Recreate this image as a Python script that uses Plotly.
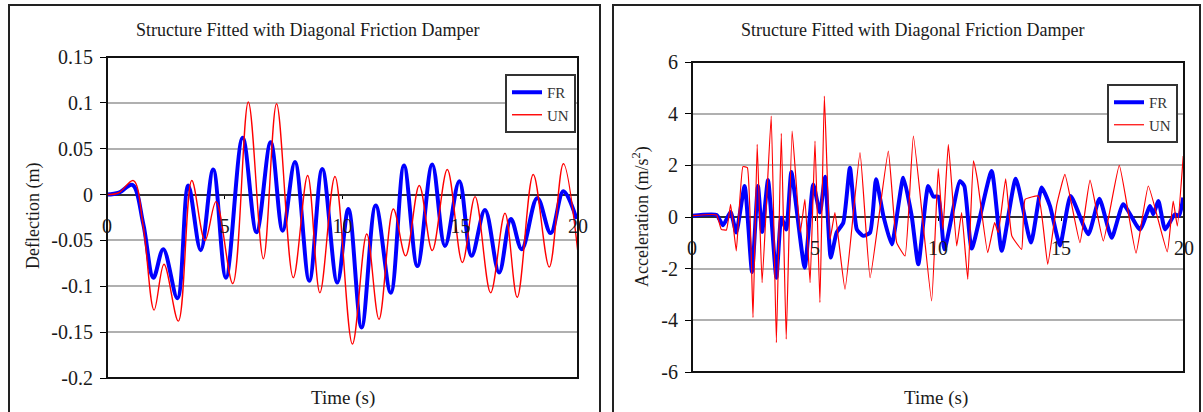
import plotly.graph_objects as go

W, H = 1203, 412

# ---------------- data ----------------
defl_fr_t = [0, 0.5, 1.08, 1.54, 1.97, 2.39, 2.99, 3.45, 3.98, 4.51, 5.05, 5.76, 6.35, 6.95, 7.46,
             7.98, 8.59, 9.14, 9.78, 10.25, 10.81, 11.41, 12.05, 12.61, 13.18, 13.81, 14.35, 14.96,
             15.48, 16.05, 16.65, 17.15, 17.61, 18.27, 18.84, 19.38, 19.94]
defl_fr = [0, 0.002, 0.0106, -0.032, -0.0906, -0.0595, -0.113, 0.0099, -0.0606, 0.0274, -0.0906,
           0.062, -0.041, 0.057, -0.0394, 0.0354, -0.094, 0.028, -0.096, -0.0157, -0.145, -0.012,
           -0.107, 0.0318, -0.078, 0.0329, -0.056, 0.0146, -0.0668, -0.0168, -0.085, -0.0267,
           -0.0595, -0.0037, -0.042, 0.0036, -0.0267]

defl_un_t = [0, 0.5, 1.12, 1.54, 2.0, 2.42, 3.03, 3.6, 4.16, 4.63, 5.34, 6.0, 6.64, 7.2, 7.91, 8.52,
             9.04, 9.68, 10.42, 11.03, 11.55, 12.16, 12.68, 13.26, 13.81, 14.45, 15.09, 15.63,
             16.29, 16.9, 17.42, 18.1, 18.78, 19.38, 20.0]
defl_un = [0, 0.002, 0.0153, -0.035, -0.126, -0.076, -0.138, 0.0153, -0.050, -0.0077, -0.097,
           0.101, -0.070, 0.099, -0.0906, 0.0208, -0.107, 0.0197, -0.163, -0.043, -0.136, -0.0157,
           -0.0668, 0.0099, -0.061, 0.0274, -0.074, -0.0022, -0.107, -0.0204, -0.112, 0.0219,
           -0.079, 0.0336, -0.064]

acc_fr_t = [0, 1.0, 1.26, 1.57, 1.8, 2.14, 2.44, 2.68, 2.85, 3.09, 3.43, 3.63, 3.83, 4.04, 4.58,
            4.93, 5.2, 5.41, 5.64, 5.88, 6.15, 6.42, 6.7, 6.96, 7.24, 7.48, 7.78, 8.12, 8.59, 8.93,
            9.2, 9.6, 9.81, 10.01, 10.26, 10.89, 11.07, 11.37, 12.18, 12.59, 13.16, 13.78, 14.21,
            14.55, 14.96, 15.39, 16.11, 16.56, 17.06, 17.53, 18.21, 18.62, 18.75, 18.96, 19.23,
            19.63, 19.8, 19.97]
acc_fr = [0.05, 0.08, -0.32, 0.19, -0.6, 1.2, -2.13, 1.2, -0.58, 1.43, -2.35, -0.03, -0.48, 1.74,
          -1.96, 1.26, 0.17, 1.56, -1.57, -0.6, -0.22, 1.91, -0.48, -0.73, -0.6, 1.46, 0.04, -1.06,
          1.52, 0.04, -1.83, 1.2, 0.79, 0.79, -1.25, 1.39, 1.2, -1.22, 1.78, -1.31, 1.48, -0.99,
          1.14, 0.43, -1.1, 0.81, -0.67, 0.71, -0.8, 0.49, -0.48, 0.43, 0.1, 0.62, -0.48, 0.1,
          0.05, 0.75]

acc_un_t = [0, 1.0, 1.19, 1.4, 1.57, 1.8, 2.07, 2.25, 2.48, 2.65, 2.85, 3.22, 3.43, 3.63, 3.83,
            4.07, 4.4, 4.59, 4.8, 5.0, 5.2, 5.38, 5.61, 5.81, 6.22, 6.83, 7.24, 7.98, 8.32, 8.66,
            9.0, 9.74, 10.01, 10.2, 10.42, 10.76, 10.96, 11.21, 11.44, 11.6, 12.02, 12.3, 12.45,
            12.75, 13.0, 13.4, 13.54, 14.08, 14.46, 14.83, 15.16, 15.77, 16.18, 16.72, 17.37,
            18.05, 18.55, 19.32, 19.56, 19.73, 19.97]
acc_un = [0.05, 0.08, -0.48, -0.5, 0.49, -1.31, 1.95, 1.91, -3.89, 2.81, -2.54, 3.91, -4.86, 3.24,
          -4.73, 3.33, -0.6, 0.68, -2.54, 2.94, -3.31, 4.68, -0.86, 0.17, -2.8, 2.49, -2.35, 2.55,
          -0.99, -1.51, 3.13, -3.25, 1.87, -0.48, 2.81, -1.12, 0.17, -2.41, 2.17, 1.46, -1.38,
          -0.22, -0.6, 1.48, -0.73, -1.25, 0.68, 0.81, -1.83, 0.49, 1.65, -0.99, 1.43, -0.93,
          2.0, -1.4, 1.2, -1.35, 0.62, -0.35, 2.36]

defl_ticks = [0.15, 0.1, 0.05, 0, -0.05, -0.1, -0.15, -0.2]
defl_ticktext = ["0.15", "0.1", "0.05", "0", "-0.05", "-0.1", "-0.15", "-0.2"]
acc_ticks = [6, 4, 2, 0, -2, -4, -6]
acc_ticktext = ["6", "4", "2", "0", "-2", "-4", "-6"]
time_ticks = [0, 5, 10, 15, 20]
time_ticktext = ["0", "5", "10", "15", "20"]

title_text = "Structure Fitted with Diagonal Friction Damper"

# ---------------- layout geometry (pixels) ----------------
FONT = "Liberation Serif, Times New Roman, serif"
BLUE = "#0000ff"
RED = "#ff0000"
TXT = "#1a1a1a"

def px_x(p):
    return p / W

def px_y(p):
    return 1 - p / H

L1 = dict(x0=107, x1=578, y0=57, y1=378)
L2 = dict(x0=692, x1=1184, y0=62, y1=372)
yr1 = [-0.2, 0.15]
yr2 = [-6, 6]

def zero_pos(box, yr):
    bottom = px_y(box["y1"])
    top = px_y(box["y0"])
    return bottom + (0 - yr[0]) / (yr[1] - yr[0]) * (top - bottom)

fig = go.Figure()

fig.add_trace(go.Scatter(x=defl_fr_t, y=defl_fr, name="FR", mode="lines",
                         line=dict(color=BLUE, width=4, shape="spline", smoothing=1.0),
                         xaxis="x", yaxis="y", legend="legend"))
fig.add_trace(go.Scatter(x=defl_un_t, y=defl_un, name="UN", mode="lines",
                         line=dict(color=RED, width=1.4, shape="spline", smoothing=1.0),
                         xaxis="x", yaxis="y", legend="legend"))
fig.add_trace(go.Scatter(x=acc_fr_t, y=acc_fr, name="FR", mode="lines",
                         line=dict(color=BLUE, width=4, shape="spline", smoothing=0.5),
                         xaxis="x2", yaxis="y2", legend="legend2"))
fig.add_trace(go.Scatter(x=acc_un_t, y=acc_un, name="UN", mode="lines",
                         line=dict(color=RED, width=1.2, shape="spline", smoothing=0.35),
                         xaxis="x2", yaxis="y2", legend="legend2"))

tickfont = dict(family=FONT, size=20, color=TXT)

common_x = dict(range=[0, 20], tickvals=time_ticks, ticktext=time_ticktext, showgrid=False,
                zeroline=False, showline=False, ticks="outside", ticklen=3, tickcolor="black",
                tickfont=tickfont, anchor="free", automargin=False, ticklabelstandoff=10)
common_y = dict(showgrid=True, gridcolor="#b0b0b0", gridwidth=1.6, zeroline=True,
                zerolinecolor="#303030", zerolinewidth=2, showline=False, ticks="outside",
                ticklen=6, tickcolor="black", tickfont=tickfont, automargin=False,
                ticklabelstandoff=3)

legend_common = dict(xanchor="left", yanchor="top", bgcolor="white", bordercolor="#333333",
                     borderwidth=2, font=dict(family=FONT, size=15, color="#333333"),
                     itemwidth=30, tracegroupgap=2)

fig.update_layout(
    width=W, height=H,
    margin=dict(l=0, r=0, t=0, b=0, pad=0),
    autosize=False,
    paper_bgcolor="white", plot_bgcolor="white",
    font=dict(family=FONT, color=TXT),
    xaxis=dict(domain=[px_x(L1["x0"]), px_x(L1["x1"])], position=zero_pos(L1, yr1), **common_x),
    yaxis=dict(domain=[px_y(L1["y1"]), px_y(L1["y0"])], range=yr1, tickvals=defl_ticks,
               ticktext=defl_ticktext, anchor="x", **common_y),
    xaxis2=dict(domain=[px_x(L2["x0"]), px_x(L2["x1"])], position=zero_pos(L2, yr2), **common_x),
    yaxis2=dict(domain=[px_y(L2["y1"]), px_y(L2["y0"])], range=yr2, tickvals=acc_ticks,
                ticktext=acc_ticktext, anchor="x2", **common_y),
    legend=dict(x=px_x(505), y=px_y(74), **legend_common),
    legend2=dict(x=px_x(1107), y=px_y(84), **legend_common),
    showlegend=True,
)

shapes = []
# outer panel frames
shapes.append(dict(type="rect", xref="paper", yref="paper", x0=px_x(9), x1=px_x(600),
                   y0=px_y(430), y1=px_y(5), line=dict(color="#222222", width=2)))
shapes.append(dict(type="rect", xref="paper", yref="paper", x0=px_x(613), x1=px_x(1200),
                   y0=px_y(430), y1=px_y(5), line=dict(color="#222222", width=2)))
# plot-area boxes
for xr, yr in (("x", "y"), ("x2", "y2")):
    shapes.append(dict(type="rect", xref=f"{xr} domain", yref=f"{yr} domain", x0=0, x1=1, y0=0, y1=1,
                       line=dict(color="#111111", width=2), layer="above"))
fig.update_layout(shapes=shapes)

ann = []
for cx in (307, 912):
    ann.append(dict(text=title_text, x=px_x(cx), y=px_y(30), xref="paper", yref="paper",
                    xanchor="center", yanchor="middle",
                    showarrow=False, font=dict(family=FONT, size=18, color=TXT)))
for cx in (343, 936):
    ann.append(dict(text="Time (s)", x=px_x(cx), y=px_y(398), xref="paper", yref="paper",
                    xanchor="center", yanchor="middle",
                    showarrow=False, font=dict(family=FONT, size=19, color=TXT)))
ann.append(dict(text="Deflection (m)", x=px_x(33), y=px_y(216), xref="paper", yref="paper",
                xanchor="center", yanchor="middle",
                textangle=-90, showarrow=False, font=dict(family=FONT, size=18, color=TXT)))
ann.append(dict(text="Acceleration (m/s<sup>2</sup>)", x=px_x(641), y=px_y(217), xref="paper",
                yref="paper", xanchor="center", yanchor="middle", textangle=-90, showarrow=False,
                font=dict(family=FONT, size=18, color=TXT)))
fig.update_layout(annotations=ann)

fig.write_html("out.html", config={"displayModeBar": False},
               post_script="document.body.style.margin='0px';document.body.style.overflow='hidden';")
